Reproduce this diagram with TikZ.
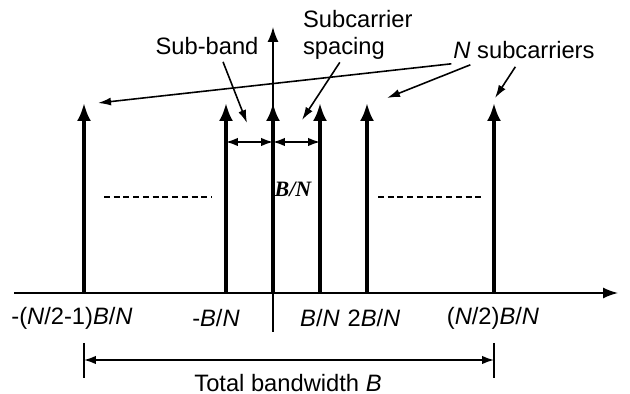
\documentclass[tikz,border=0pt]{standalone}
\usepackage{fontspec}
\setmainfont{Liberation Sans}
\newfontfamily\bnfont{Liberation Serif}
\usetikzlibrary{arrows.meta}
\usetikzlibrary{positioning}

\begin{document}
\begin{tikzpicture}
    [
    x=0.02cm, y=-0.02cm,
    txt/.style={font=\fontsize{13.5}{15}\selectfont, inner sep=1pt},
    guide/.style={line width=0.9pt},
    axis/.style={line width=0.9pt, -{Latex[length=0.3cm,width=0.22cm]}},
    carrier/.style={line width=2pt, -{Latex[length=0.36cm,width=0.28cm]}},
    pointer/.style={line width=0.9pt, -{Latex[length=0.26cm,width=0.16cm]}},
    both/.style={line width=0.9pt, {Latex[length=0.24cm,width=0.17cm]}-{Latex[length=0.24cm,width=0.17cm]}},
    ]
    \useasboundingbox (0,0) rectangle (630,394);

    % axes
    \coordinate (xstart) at (14,293);
    \coordinate (xend) at (618,293);
    \coordinate (ybot) at (273,332);
    \coordinate (ytop) at (273,27);
    \draw [axis] (xstart) to (xend);
    \draw [axis] (ybot) to (ytop);

    % subcarriers
    \foreach \n/\x in {m/84, a/226, c/273, b/320, d/367, e/494} {
      \coordinate (base\n) at (\x,293);
      \coordinate (tip\n) at (\x,103);
      \draw [carrier] (base\n) to (tip\n);
    }

    % frequency labels
    \node (lm) at (72,318) [txt] {-(\textit{N}/2-1)\textit{B}/\textit{N}};
    \node (la) at (216,318) [txt] {-\textit{B}/\textit{N}};
    \node (lb) at (320,318) [txt] {\textit{B}/\textit{N}};
    \node (ld) at (374,318) [txt] {2\textit{B}/\textit{N}};
    \node (le) at (493,318) [txt] {(\textit{N}/2)\textit{B}/\textit{N}};

    % sub-band and spacing
    \coordinate (w1) at (226,142);
    \coordinate (w2) at (273,142);
    \coordinate (w3) at (320,142);
    \draw [both] (w1) to (w2);
    \draw [both] (w2) to (w3);
    \node (bn) at (293,189) [font=\bnfont\bfseries\itshape\fontsize{12.5}{13}\selectfont, inner sep=0pt] {B/N};

    \coordinate (dl1) at (104,197);
    \coordinate (dl2) at (212,197);
    \coordinate (dr1) at (378,197);
    \coordinate (dr2) at (485,197);
    \draw [guide, dash pattern=on 0.12cm off 0.075cm] (dl1) to (dl2);
    \draw [guide, dash pattern=on 0.12cm off 0.075cm] (dr1) to (dr2);

    % labels on top
    \node (subband) at (207,46) [txt] {Sub-band};
    \node (spacing) at (301,35) [txt, anchor=west, align=left] {Subcarrier\\spacing};
    \node (nsub) at (524,50) [txt] {\textit{N} subcarriers};

    \coordinate (sbtip) at (247,123);
    \coordinate (sptip) at (302,120);
    \coordinate (n1) at (98,103);
    \coordinate (n2) at (387,98);
    \coordinate (n3) at (495,98);
    \draw [pointer] ([xshift=0.32cm,yshift=-0.1cm]subband.south) to (sbtip);
    \draw [pointer] ([xshift=-0.36cm,yshift=-0.02cm]spacing.south) to (sptip);
    \draw [pointer] ([yshift=-0.06cm]nsub.south west) to (n1);
    \draw [pointer] ([xshift=0.38cm,yshift=-0.08cm]nsub.south west) to (n2);
    \draw [pointer] ([xshift=1.28cm,yshift=-0.12cm]nsub.south west) to (n3);

    % total bandwidth
    \coordinate (tl1) at (84,343);
    \coordinate (tl2) at (84,378);
    \coordinate (tr1) at (494,343);
    \coordinate (tr2) at (494,378);
    \coordinate (bl) at (84,360);
    \coordinate (br) at (494,360);
    \draw [guide] (tl1) to (tl2);
    \draw [guide] (tr1) to (tr2);
    \draw [both] (bl) to (br);
    \node (total) at (288,383) [txt] {Total bandwidth \textit{B}};
  \end{tikzpicture}
\end{document}
